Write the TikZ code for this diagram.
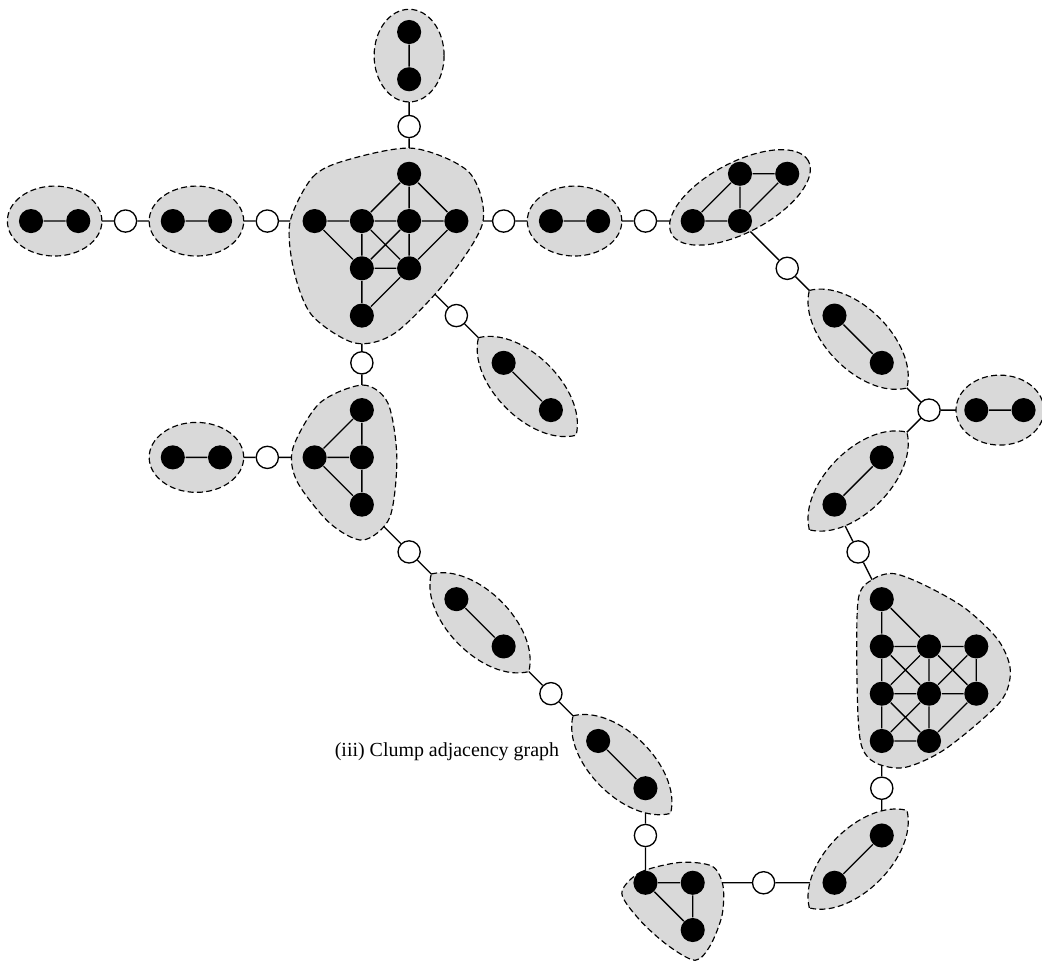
\documentclass[tikz,border=0pt]{standalone}
\usepackage{fontspec}
\setmainfont{Liberation Serif}
\pgfdeclarelayer{background}
\pgfdeclarelayer{hulls}
\pgfsetlayers{background,hulls,main}

\tikzset{
	vtx/.style={circle, fill=black, inner sep=0pt, minimum size=0.51cm},
	cutvtx/.style={circle, draw=black, fill=white, inner sep=0pt, minimum size=0.47cm},
	hull/.style={draw=black, fill=black!15, line width=0.7pt, dash pattern=on 3.6pt off 2pt},
	link/.style={draw=black, line width=0.8pt},
}
% leaf shaped hull round a diagonal pair: centre x, centre y, angle
\newcommand{\leafhull}[3]{\draw[hull, shift={(#1,#2)}, rotate=#3] (-1.46,0) .. controls (-0.95,0.85) and (0.95,0.85) .. (1.46,0) .. controls (0.95,-0.85) and (-0.95,-0.85) .. cycle;}

\begin{document}
\begin{tikzpicture}[line width=0.8pt]
	\useasboundingbox (-0.656,-19.78) rectangle (21.39,0.677);
	% clump vertices
	\node[vtx] (t1) at (8,0) {};
	\node[vtx] (t2) at (8,-1) {};
	\node[vtx] (a1) at (0,-4) {};
	\node[vtx] (a2) at (1,-4) {};
	\node[vtx] (b1) at (3,-4) {};
	\node[vtx] (b2) at (4,-4) {};
	\node[vtx] (c1) at (6,-4) {};
	\node[vtx] (c2) at (7,-4) {};
	\node[vtx] (c3) at (8,-4) {};
	\node[vtx] (c4) at (9,-4) {};
	\node[vtx] (c5) at (8,-3) {};
	\node[vtx] (c6) at (7,-5) {};
	\node[vtx] (c7) at (8,-5) {};
	\node[vtx] (c8) at (7,-6) {};
	\node[vtx] (d1) at (11,-4) {};
	\node[vtx] (d2) at (12,-4) {};
	\node[vtx] (e1) at (14,-4) {};
	\node[vtx] (e2) at (15,-4) {};
	\node[vtx] (e3) at (15,-3) {};
	\node[vtx] (e4) at (16,-3) {};
	\node[vtx] (f1) at (17,-6) {};
	\node[vtx] (f2) at (18,-7) {};
	\node[vtx] (g1) at (20,-8) {};
	\node[vtx] (g2) at (21,-8) {};
	\node[vtx] (h1) at (17,-10) {};
	\node[vtx] (h2) at (18,-9) {};
	\node[vtx] (k1) at (18,-12) {};
	\node[vtx] (k2) at (18,-13) {};
	\node[vtx] (k3) at (19,-13) {};
	\node[vtx] (k4) at (20,-13) {};
	\node[vtx] (k5) at (18,-14) {};
	\node[vtx] (k6) at (19,-14) {};
	\node[vtx] (k7) at (20,-14) {};
	\node[vtx] (k8) at (18,-15) {};
	\node[vtx] (k9) at (19,-15) {};
	\node[vtx] (m1) at (18,-17) {};
	\node[vtx] (m2) at (17,-18) {};
	\node[vtx] (n1) at (13,-18) {};
	\node[vtx] (n2) at (14,-18) {};
	\node[vtx] (n3) at (14,-19) {};
	\node[vtx] (p1) at (12,-15) {};
	\node[vtx] (p2) at (13,-16) {};
	\node[vtx] (q1) at (9,-12) {};
	\node[vtx] (q2) at (10,-13) {};
	\node[vtx] (r1) at (6,-9) {};
	\node[vtx] (r2) at (7,-8) {};
	\node[vtx] (r3) at (7,-9) {};
	\node[vtx] (r4) at (7,-10) {};
	\node[vtx] (s1) at (3,-9) {};
	\node[vtx] (s2) at (4,-9) {};
	\node[vtx] (u1) at (10,-7) {};
	\node[vtx] (u2) at (11,-8) {};
	% separating vertices
	\node[cutvtx] (w1) at (8,-2) {};
	\node[cutvtx] (w2) at (2,-4) {};
	\node[cutvtx] (w3) at (5,-4) {};
	\node[cutvtx] (w4) at (10,-4) {};
	\node[cutvtx] (w5) at (13,-4) {};
	\node[cutvtx] (w6) at (16,-5) {};
	\node[cutvtx] (w7) at (19,-8) {};
	\node[cutvtx] (w8) at (17.5,-11) {};
	\node[cutvtx] (w9) at (18,-16) {};
	\node[cutvtx] (w10) at (15.5,-18) {};
	\node[cutvtx] (w11) at (13,-17) {};
	\node[cutvtx] (w12) at (11,-14) {};
	\node[cutvtx] (w13) at (8,-11) {};
	\node[cutvtx] (w14) at (5,-9) {};
	\node[cutvtx] (w15) at (7,-7) {};
	\node[cutvtx] (w16) at (9,-6) {};
	% edges inside the clumps
	\draw (t1) -- (t2) (a1) -- (a2) (b1) -- (b2) (d1) -- (d2) (f1) -- (f2) (g1) -- (g2)
		(h1) -- (h2) (m1) -- (m2) (p1) -- (p2) (q1) -- (q2) (s1) -- (s2) (u1) -- (u2);
	\draw (c5) -- (c2) (c5) -- (c3) (c5) -- (c4) (c1) -- (c2) -- (c3) -- (c4)
		(c1) -- (c6) (c2) -- (c6) (c2) -- (c7) (c3) -- (c6) (c3) -- (c7) (c4) -- (c7)
		(c6) -- (c7) (c6) -- (c8) (c7) -- (c8);
	\draw (e1) -- (e2) (e1) -- (e3) (e3) -- (e4) (e3) -- (e2) (e2) -- (e4);
	\draw (k1) -- (k2) (k1) -- (k3) (k2) -- (k3) -- (k4) (k2) -- (k5) (k3) -- (k6) (k4) -- (k7)
		(k2) -- (k6) (k3) -- (k5) (k3) -- (k7) (k4) -- (k6) (k5) -- (k6) -- (k7)
		(k5) -- (k8) (k6) -- (k9) (k5) -- (k9) (k6) -- (k8) (k7) -- (k9) (k8) -- (k9);
	\draw (n1) -- (n2) -- (n3) -- (n1);
	\draw (r1) -- (r2) (r1) -- (r3) (r1) -- (r4) (r2) -- (r3) -- (r4);
	% adjacency links, behind the hulls
	\begin{pgfonlayer}{background}
		\draw[link] (w1) -- (c5) (w1) -- (t2) (w2) -- (a2) (w2) -- (b1) (w3) -- (b2) (w3) -- (c1)
			(w4) -- (c4) (w4) -- (d1) (w5) -- (d2) (w5) -- (e1) (w6) -- (e2) (w6) -- (f1)
			(w7) -- (f2) (w7) -- (g1) (w7) -- (h2) (w8) -- (h1) (w8) -- (k1)
			(w9) -- (k8) (w9) -- (m1) (w10) -- (m2) (w10) -- (n2) (w11) -- (n1) (w11) -- (p2)
			(w12) -- (p1) (w12) -- (q2) (w13) -- (r4) (w13) -- (q1) (w14) -- (s2) (w14) -- (r1)
			(w15) -- (c8) (w15) -- (r2) (w16) -- (c7) (w16) -- (u1);
	\end{pgfonlayer}
	% clump hulls
	\begin{pgfonlayer}{hulls}
		\draw[hull] (8,-0.5) ellipse (0.74 and 0.98);
		\draw[hull] (0.5,-4) ellipse (1.0 and 0.74);
		\draw[hull] (3.5,-4) ellipse (1.0 and 0.74);
		\draw[hull] (11.5,-4) ellipse (1.0 and 0.74);
		\draw[hull] (3.5,-9) ellipse (1.0 and 0.74);
		\draw[hull] (20.5,-8) ellipse (0.93 and 0.74);
		\draw[hull, rotate around={28:(15,-3.5)}] (15,-3.5) ellipse (1.64 and 0.74);
		\leafhull{17.5}{-6.5}{-45}
		\leafhull{10.5}{-7.5}{-45}
		\leafhull{9.5}{-12.5}{-45}
		\leafhull{12.5}{-15.5}{-45}
		\leafhull{17.5}{-9.5}{45}
		\leafhull{17.5}{-17.5}{45}
		\draw[hull] plot[smooth cycle] coordinates {(5.48,-4.02) (5.96,-3.07) (6.68,-2.71) (8.08,-2.46) (9.27,-2.97) (9.56,-4.02) (8.80,-5.25) (7.70,-6.37) (6.85,-6.58) (5.94,-5.99) (5.56,-5.04)};
		\draw[hull] plot[smooth cycle] coordinates {(6.11,-7.85) (7.02,-7.47) (7.55,-7.85) (7.74,-9.00) (7.59,-10.27) (7.02,-10.75) (6.32,-10.39) (5.63,-9.51) (5.54,-8.81)};
		\draw[hull] plot[smooth cycle] coordinates {(17.50,-12.02) (17.81,-11.58) (18.26,-11.46) (18.92,-11.71) (19.76,-12.19) (20.46,-12.86) (20.72,-13.51) (20.50,-14.18) (19.36,-15.16) (18.49,-15.56) (17.86,-15.46) (17.56,-15.06) (17.48,-13.93)};
		\draw[hull] plot[smooth cycle] coordinates {(12.50,-18.22) (12.89,-17.78) (13.73,-17.57) (14.41,-17.65) (14.64,-18.06) (14.62,-18.69) (14.37,-19.33) (14.05,-19.64) (13.48,-19.33) (12.89,-18.80)};
	\end{pgfonlayer}
	\node[font=\fontsize{12}{14}\selectfont] (caption) at (8.80,-15.23) {(iii) Clump adjacency graph};
\end{tikzpicture}
\end{document}
